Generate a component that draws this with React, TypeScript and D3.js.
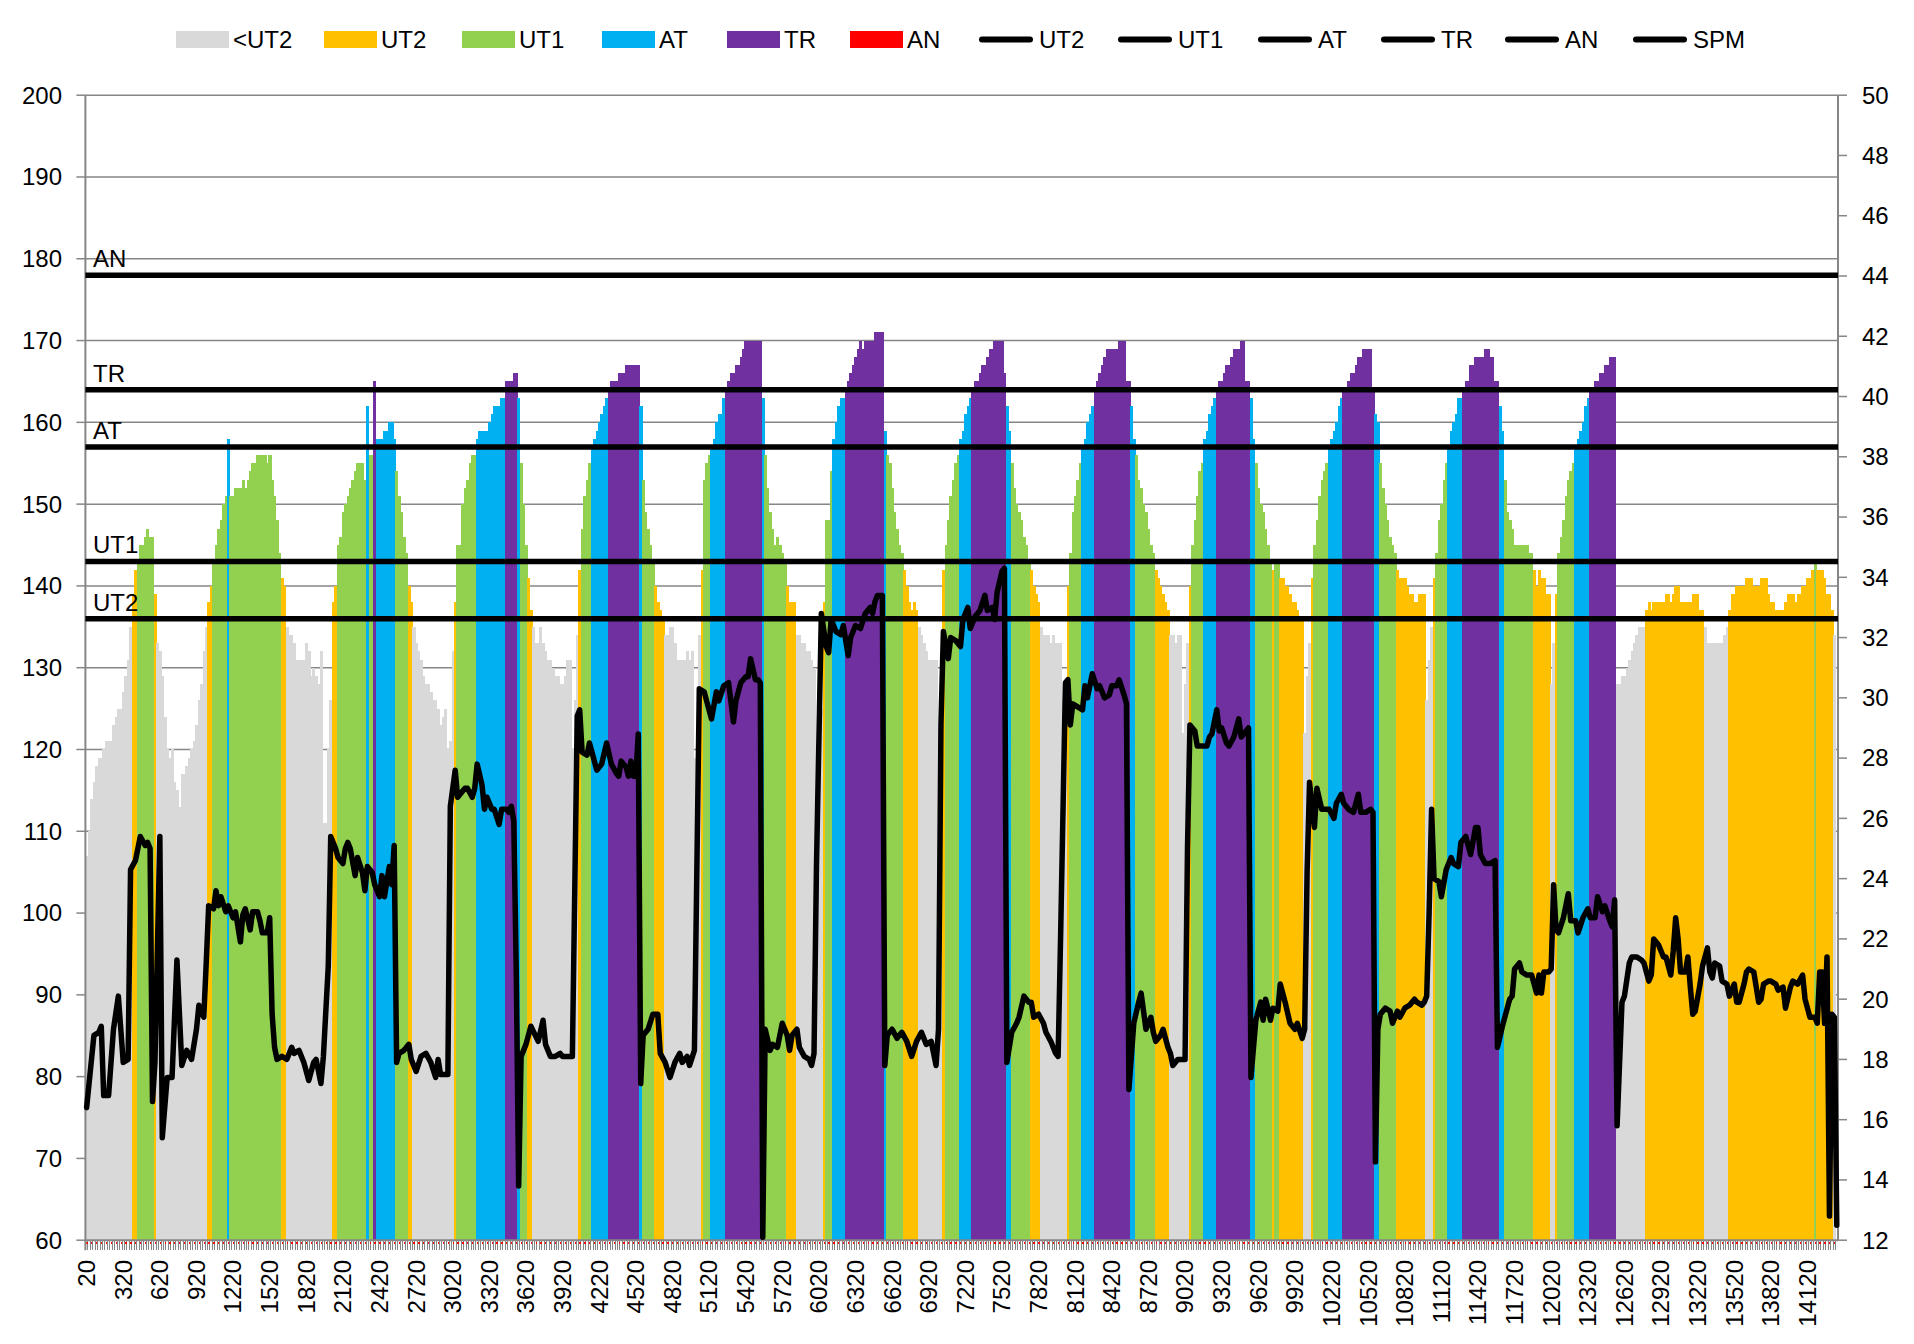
import * as d3 from 'd3';

// heart rate per 20 m split (bpm), last split has no bar
const hr: (number | null)[] = [
  // 0
  107, 110, 114, 116, 118, 119, 119, 120, 121, 121, 121, 123, 124, 125, 125, 127, 129, 131, 135,
  139, 142, 143, 145, 145, 146, 147, 146, 146, 139,
  // 29
  133, 132, 129, 124, 120, 119, 120, 116, 115, 113, 117, 117, 118, 119, 120, 121, 123, 126, 128, 132, 135,
  138, 140, 143, 145, 147, 148, 150, 151, 158,
  // 59
  151, 151, 152, 152, 152, 153, 152, 153, 154, 155, 155, 156, 156, 156, 156, 155, 156, 153, 151, 148, 144,
  141, 140,
  // 82
  135, 134, 134, 133, 131, 131, 131, 131, 133, 132, 129, 130, 129, 128, 132, 111, 111, 120, 126,
  138, 140,
  // 103
  145, 146, 149, 150, 151, 152, 153, 154, 155, 155, 155, 153, 162, 156, 156, 165,
  // 119
  158, 158, 158, 159, 159, 160, 160, 158, 154, 151, 149, 146, 144, 140, 138,
  // 134
  135, 133, 132, 131, 129, 128, 128, 127, 126, 126, 125, 123, 124, 125, 120, 121, 132, 138,
  // 152
  145, 145, 150, 152, 153, 155, 156, 156,
  158, 159, 159, 159, 159, 160, 161, 162, 162, 162, 163, 163,
  165, 165, 165, 166, 166, 163, 155, 150, 145, 141, 137,
  // 183
  135, 133, 133, 135, 133, 132, 131, 131, 130, 129, 129, 128, 128, 129, 131, 131, 120, 126, 134,
  142, 147, 151, 153, 155,
  // 207
  157, 158, 159, 160, 161, 162, 163,
  164, 165, 165, 165, 166, 166, 166, 167, 167, 167, 167, 167, 167,
  162, 153, 149, 147, 145, 143, 140, 138, 137, 136,
  // 237
  134, 134, 135, 135, 133, 131, 131, 131, 131, 132, 131, 132, 119, 119, 134,
  142, 153, 155, 156, 157, 158, 160, 161, 161, 163,
  // 262
  164, 165, 166, 166, 167, 167, 168, 169, 170, 170, 170, 170, 170, 170, 170,
  163, 156, 152, 149, 147, 145, 146, 145, 144, 143, 140, 138, 138, 138,
  // 291
  134, 134, 133, 133, 132, 132, 131, 130, 117, 117, 125, 138, 148, 148, 154,
  158, 160, 162, 163, 163,
  // 311
  164, 165, 166, 167, 168, 169, 170, 169, 170, 170, 170, 170, 171, 171, 171, 171,
  159, 156, 155, 152, 149, 147, 145, 144, 142, 140, 138, 137, 138, 137,
  // 341
  135, 134, 133, 132, 131, 131, 131, 131, 119, 119, 142,
  145, 148, 151, 153, 155, 156, 158, 159, 161, 162, 163,
  // 363
  164, 165, 165, 166, 167, 167, 168, 169, 169, 170, 170, 170, 170, 166,
  162, 159, 155, 152, 150, 149, 148, 146, 145, 143, 142, 140, 139, 138,
  // 391
  135, 134, 134, 134, 133, 134, 133, 133, 133, 126, 120, 140,
  144, 149, 151, 153, 155, 157, 158, 160, 161, 162,
  // 413
  164, 165, 166, 167, 168, 169, 169, 169, 169, 169, 170, 170, 170, 165, 165,
  162, 158, 156, 153, 152, 150, 149, 147, 145, 144, 142, 141, 140, 139, 138, 137,
  // 444
  134, 134, 133, 134, 134, 122, 128, 133, 140,
  145, 148, 151, 154, 155, 158, 159, 161, 162, 163,
  // 463
  164, 165, 165, 166, 167, 167, 168, 169, 169, 169, 170, 170, 165, 165,
  163, 158, 155, 152, 150, 149, 147, 145, 143, 142, 143, 143,
  // 489
  141, 141, 140, 140, 139, 138, 138, 137, 136, 136, 122, 129, 133, 141,
  145, 148, 151, 153, 154, 155, 157, 158, 159, 160, 162, 163,
  // 515
  164, 164, 165, 166, 166, 167, 168, 168, 169, 169, 169, 169, 164,
  161, 160, 155, 152, 150, 148, 146, 145, 144,
  // 537
  142, 141, 141, 141, 140, 139, 139, 138, 138, 139, 139, 139, 126, 131, 135, 141,
  144, 148, 150, 153, 155, 157, 159, 160, 161, 163, 163,
  // 564
  164, 165, 165, 167, 167, 168, 168, 168, 168, 169, 169, 168, 168, 165, 165,
  162, 159, 153, 149, 148, 147, 145, 145, 145, 145, 145, 145, 144, 144,
  // 593
  142, 140, 142, 141, 141, 139, 139, 128, 133, 139,
  144, 146, 148, 151, 153, 154, 155, 157, 158, 159, 160, 162, 163,
  // 616
  164, 164, 165, 165, 166, 166, 167, 167, 168, 168, 168,
  128, 128, 129, 129, 130, 131, 132, 133, 134, 135, 135, 135, 137, 138,
  // 641
  137, 138, 138, 138, 138, 138, 139, 139, 138, 139, 140, 140, 138, 138, 138, 138, 138, 139, 139, 139, 137, 137,
  135, 133, 133, 133, 133, 133, 133, 133, 134, 135,
  // 673
  137, 139, 139, 140, 140, 140, 140, 141, 141, 141, 140, 140, 140, 141, 141, 141, 139, 138, 138, 137, 137, 137,
  137, 138, 139, 139, 139, 138, 139, 139, 140, 140, 141, 141, 142, 143, 142, 142, 142, 141, 139, 139, 137, 134,
  null,
];

// strokes per minute, as [split index, spm] at the turning points of the line
const spm: [number, number][] = [
  [0, 16.4], [3, 18.8], [5, 18.9], [6, 19.1], [7, 16.8], [9, 16.8], [11, 19.0], [13, 20.1], [14, 19.0],
  [15, 17.9], [17, 18.0], [18, 24.3], [20, 24.6], [21, 25.0], [22, 25.4], [24, 25.1], [25, 25.2], [26, 25.0],
  [27, 16.6], [28, 17.9], [30, 25.4], [31, 15.4], [33, 17.4], [35, 17.4], [37, 21.3], [39, 17.8], [41, 18.3],
  [43, 18.0], [45, 19.0], [46, 19.8], [48, 19.4], [49, 21.2], [50, 23.1], [52, 23.0], [53, 23.6], [54, 23.1],
  [55, 23.4], [57, 22.9], [58, 23.1], [60, 22.7], [61, 22.9], [63, 21.9], [64, 22.8], [65, 23.0], [67, 22.3],
  [68, 22.9], [70, 22.9], [71, 22.6], [72, 22.2], [74, 22.2], [75, 22.7], [76, 19.5], [77, 18.4], [78, 18.0],
  [80, 18.1], [82, 18.0], [84, 18.4], [85, 18.2], [87, 18.3], [89, 17.9], [91, 17.3], [93, 17.9], [94, 18.0],
  [96, 17.2], [97, 18.1], [99, 21.1], [100, 25.4], [102, 25.0], [103, 24.7], [105, 24.5], [106, 25.0],
  [107, 25.2], [108, 25.0], [110, 24.1], [111, 24.7], [113, 24.2], [114, 23.6], [115, 24.4], [117, 24.2],
  [118, 23.8], [120, 23.4], [121, 24.1], [122, 23.4], [124, 24.4], [125, 23.8], [126, 25.1], [127, 17.9],
  [128, 18.2], [130, 18.3], [132, 18.5], [133, 18.0], [135, 17.6], [137, 18.1], [139, 18.2], [141, 17.9],
  [143, 17.4], [144, 18.0], [145, 17.5], [148, 17.5], [149, 26.4], [151, 27.6], [152, 26.7], [154, 26.9],
  [155, 27.0], [156, 27.0], [158, 26.7], [159, 27.0], [160, 27.8], [162, 27.1], [163, 26.3], [164, 26.7],
  [166, 26.3], [167, 26.3], [169, 25.8], [170, 26.3], [172, 26.3], [173, 26.2], [174, 26.4], [175, 25.9],
  [176, 21.0], [177, 13.8], [178, 18.1], [180, 18.5], [182, 19.1], [185, 18.6], [187, 19.3], [188, 18.5],
  [190, 18.1], [192, 18.1], [194, 18.2], [195, 18.1], [197, 18.1], [199, 18.1], [201, 29.4], [202, 29.6],
  [203, 28.2], [205, 28.1], [206, 28.5], [207, 28.2], [209, 27.6], [211, 27.8], [213, 28.5], [215, 27.8],
  [217, 27.5], [218, 27.4], [219, 27.9], [221, 27.7], [222, 27.4], [223, 27.9], [224, 27.4], [225, 27.4],
  [226, 28.8], [227, 17.2], [228, 18.8], [230, 19.0], [232, 19.5], [234, 19.5], [235, 18.2], [237, 17.9],
  [239, 17.4], [241, 17.9], [243, 18.2], [244, 17.9], [246, 18.1], [247, 17.8], [249, 18.3], [251, 30.3],
  [253, 30.2], [254, 29.9], [256, 29.3], [258, 30.2], [259, 29.9], [261, 30.4], [263, 30.5], [265, 29.2],
  [266, 29.9], [268, 30.5], [270, 30.7], [271, 30.7], [272, 31.3], [274, 30.6], [275, 30.6], [276, 30.5],
  [277, 12.1], [278, 19.0], [280, 18.3], [281, 18.5], [283, 18.4], [285, 19.2], [287, 18.8], [288, 18.3],
  [289, 18.8], [291, 19.0], [292, 18.4], [294, 18.1], [296, 18.0], [297, 17.8], [298, 18.2], [299, 24.4],
  [301, 32.8], [303, 31.7], [304, 31.5], [305, 32.6], [307, 32.2], [309, 32.1], [310, 32.4], [312, 31.4],
  [313, 32.0], [315, 32.4], [317, 32.3], [319, 32.8], [321, 33.0], [322, 32.8], [323, 33.2], [324, 33.4],
  [326, 33.4], [327, 17.8], [328, 18.8], [330, 19.0], [332, 18.7], [334, 18.9], [336, 18.6], [338, 18.1],
  [340, 18.6], [342, 18.9], [344, 18.5], [346, 18.6], [348, 17.8], [349, 19.0], [350, 29.1], [351, 32.2],
  [353, 31.3], [354, 32.0], [356, 31.9], [358, 31.7], [359, 32.6], [361, 33.0], [362, 32.3], [364, 32.7],
  [366, 32.9], [368, 33.4], [369, 32.9], [371, 33.0], [372, 32.6], [373, 33.5], [375, 34.2], [376, 34.3],
  [377, 17.9], [379, 18.9], [381, 19.2], [382, 19.4], [384, 20.1], [386, 19.9], [387, 19.9], [388, 19.4],
  [390, 19.5], [392, 19.2], [393, 18.9], [395, 18.6], [397, 18.2], [398, 18.1], [399, 22.0], [401, 30.5],
  [402, 30.6], [403, 29.1], [404, 29.8], [406, 29.7], [408, 29.6], [409, 30.4], [410, 30.0], [412, 30.8],
  [414, 30.3], [415, 30.4], [417, 30.0], [419, 30.1], [420, 30.4], [422, 30.4], [423, 30.6], [425, 30.1],
  [426, 29.8], [427, 17.0], [429, 19.2], [431, 19.9], [432, 20.2], [434, 19.0], [436, 19.4], [437, 18.9],
  [438, 18.6], [440, 18.8], [441, 19.0], [443, 18.4], [444, 18.2], [445, 17.8], [447, 18.0], [448, 18.0],
  [450, 18.0], [451, 25.0], [452, 29.1], [454, 28.9], [455, 28.4], [457, 28.4], [459, 28.4], [460, 28.7],
  [461, 28.8], [463, 29.6], [464, 28.9], [465, 29.0], [467, 28.5], [468, 28.4], [470, 28.7], [472, 29.3],
  [473, 28.7], [474, 28.8], [476, 29.0], [477, 17.4], [479, 19.3], [481, 19.9], [482, 19.3], [483, 20.0],
  [485, 19.3], [486, 19.7], [488, 19.6], [489, 20.5], [491, 19.9], [493, 19.2], [495, 19.0], [496, 19.2],
  [498, 18.7], [499, 19.0], [500, 24.2], [501, 27.2], [503, 25.7], [504, 27.0], [506, 26.3], [507, 26.3],
  [509, 26.3], [511, 26.0], [512, 26.5], [514, 26.8], [515, 26.5], [517, 26.3], [519, 26.2], [521, 26.8],
  [522, 26.2], [524, 26.2], [526, 26.3], [527, 26.2], [528, 14.6], [529, 19.0], [530, 19.5], [532, 19.7],
  [534, 19.6], [535, 19.2], [537, 19.6], [538, 19.4], [540, 19.7], [542, 19.8], [544, 20.0], [545, 19.9],
  [547, 19.8], [548, 19.9], [549, 20.1], [550, 22.9], [551, 26.3], [552, 24.0], [554, 23.9], [555, 23.4],
  [557, 24.3], [559, 24.7], [560, 24.5], [562, 24.4], [563, 25.2], [565, 25.4], [566, 25.1], [567, 24.8],
  [569, 25.7], [570, 25.7], [571, 24.8], [573, 24.5], [575, 24.5], [577, 24.6], [578, 18.4], [580, 19.1],
  [582, 19.7], [583, 20.0], [584, 20.1], [585, 21.0], [587, 21.2], [588, 20.9], [590, 20.8], [592, 20.8],
  [594, 20.2], [595, 20.8], [596, 20.2], [597, 20.9], [599, 20.9], [600, 21.0], [601, 23.8], [602, 22.3],
  [603, 22.2], [605, 22.7], [607, 23.5], [608, 22.6], [610, 22.6], [611, 22.2], [613, 22.7], [615, 23.0],
  [616, 22.7], [618, 22.7], [619, 23.4], [621, 22.9], [622, 23.1], [624, 22.6], [625, 22.4], [626, 23.3],
  [627, 15.8], [629, 19.9], [630, 20.1], [632, 21.2], [633, 21.4], [635, 21.4], [637, 21.3], [638, 21.2],
  [640, 20.6], [641, 20.8], [642, 22.0], [644, 21.8], [646, 21.4], [647, 21.4], [649, 20.8], [650, 21.6],
  [651, 22.7], [652, 22.0], [653, 20.9], [655, 20.9], [656, 21.4], [657, 20.4], [658, 19.5], [659, 19.6],
  [661, 20.5], [662, 21.1], [664, 21.7], [665, 20.9], [666, 20.7], [667, 21.2], [669, 21.1], [670, 20.6],
  [672, 20.5], [673, 20.1], [675, 20.5], [676, 19.9], [677, 19.9], [679, 20.5], [680, 20.9], [681, 21.0],
  [683, 20.9], [685, 19.9], [686, 20.0], [687, 20.5], [689, 20.6], [690, 20.6], [692, 20.5], [693, 20.3],
  [695, 20.4], [696, 19.7], [698, 20.4], [699, 20.6], [701, 20.5], [703, 20.8], [704, 20.0], [706, 19.4],
  [708, 19.4], [709, 19.2], [710, 20.9], [711, 20.9], [712, 19.2], [713, 21.4], [714, 12.8], [715, 19.5],
  [716, 19.4], [717, 12.5],
];

const distanceStep = 20;
const categories = hr.map((_, i) => (i + 1) * distanceStep);
const labelEvery = 15;

const zoneNames = ['<UT2', 'UT2', 'UT1', 'AT', 'TR', 'AN'];
const zoneColors = ['#d9d9d9', '#ffc000', '#92d050', '#00b0f0', '#7030a0', '#ff0000'];
const zoneLines = ['UT2', 'UT1', 'AT', 'TR', 'AN'];
const zoneLimits = [136, 143, 157, 164, 178];

const hrTicks = d3.range(60, 201, 10);
const spmTicks = d3.range(12, 51, 2);

const W = 1914;
const H = 1344;
const left = 85.4;
const right = 1838;
const top = 95.2;
const bottom = 1240.2;
const font = "'Liberation Sans', Arial, sans-serif";
const axisGrey = '#868686';

const App = () => {
  const x = d3.scaleBand<number>().domain(categories).range([left, right]).padding(0);
  const bw = x.bandwidth();
  const yHr = d3.scaleLinear().domain([60, 200]).range([bottom, top]);
  const ySpm = d3.scaleLinear().domain([12, 50]).range([bottom, top]);
  const cx = (i: number) => (x(categories[i]) ?? 0) + bw / 2;

  const spmPath = d3
    .line<[number, number]>()
    .x(d => cx(d[0]))
    .y(d => ySpm(d[1]))(spm);

  // legend: six zone swatches, then the six line series
  const swatchX = [176, 324, 462, 602, 727, 850];
  const lineX = [979, 1118, 1258, 1381, 1505, 1633];
  const lineNames = [...zoneLines, 'SPM'];

  return (
    <svg
      width={W}
      height={H}
      style={{ position: 'absolute', left: 0, top: 0, background: '#fff' }}
      fontFamily={font}
    >
      {/* gridlines */}
      {hrTicks.slice(1).map(t => (
        <line key={'g' + t} x1={left} x2={right} y1={yHr(t)} y2={yHr(t)} stroke={axisGrey} strokeWidth={1.5} />
      ))}

      {/* bars */}
      <g shapeRendering="crispEdges">
        {hr.map((v, i) =>
          v == null ? null : (
            <rect
              key={i}
              x={x(categories[i])}
              y={yHr(v)}
              width={bw + 0.6}
              height={bottom - yHr(v)}
              fill={zoneColors[d3.bisectRight(zoneLimits, v)]}
            />
          )
        )}
      </g>

      {/* category axis */}
      <g shapeRendering="crispEdges">
        {categories.map(c => (
          <line key={'t' + c} x1={x(c)!} x2={x(c)!} y1={bottom} y2={bottom + 10} stroke={axisGrey} strokeWidth={1} />
        ))}
        {categories
          .filter((_, i) => i % 2 === 0)
          .map(c => (
            <rect key={'r' + c} x={x(c)! + 1} y={bottom + 1.5} width={1.2} height={2} fill="#ff0000" />
          ))}
      </g>
      <line x1={left} x2={right} y1={bottom} y2={bottom} stroke={axisGrey} strokeWidth={2} />
      {categories
        .filter((_, i) => i % labelEvery === 0)
        .map(c => (
          <text
            key={'xl' + c}
            transform={`translate(${(x(c) ?? 0) + bw / 2},1260) rotate(-90)`}
            textAnchor="end"
            dy="0.35em"
            fontSize={24}
            fill="#000"
          >
            {c}
          </text>
        ))}

      {/* left axis */}
      <line x1={left} x2={left} y1={top} y2={bottom + 10} stroke={axisGrey} strokeWidth={2} />
      {hrTicks.map(t => (
        <g key={'yl' + t}>
          <line x1={left - 9} x2={left} y1={yHr(t)} y2={yHr(t)} stroke={axisGrey} strokeWidth={1.5} />
          <text x={62} y={yHr(t)} dy="0.35em" textAnchor="end" fontSize={24} fill="#000">
            {t}
          </text>
        </g>
      ))}

      {/* right axis */}
      <line x1={right} x2={right} y1={top} y2={bottom} stroke={axisGrey} strokeWidth={2} />
      {spmTicks.map(t => (
        <g key={'yr' + t}>
          <line x1={right} x2={right + 9} y1={ySpm(t)} y2={ySpm(t)} stroke={axisGrey} strokeWidth={1.5} />
          <text x={right + 24} y={ySpm(t)} dy="0.35em" textAnchor="start" fontSize={24} fill="#000">
            {t}
          </text>
        </g>
      ))}

      {/* zone threshold lines */}
      {zoneLimits.map((v, k) => (
        <g key={'z' + k}>
          <line x1={left} x2={right} y1={yHr(v)} y2={yHr(v)} stroke="#000" strokeWidth={5.5} />
          <text x={93} y={yHr(v) - 8} fontSize={24} fill="#000">
            {zoneLines[k]}
          </text>
        </g>
      ))}

      {/* stroke rate */}
      <path
        d={spmPath ?? ''}
        fill="none"
        stroke="#000"
        strokeWidth={5.5}
        strokeLinejoin="round"
        strokeLinecap="round"
      />

      {/* legend */}
      <g fontSize={24}>
        {zoneNames.map((n, k) => (
          <g key={'lz' + k}>
            <rect x={swatchX[k]} y={31} width={53} height={17} fill={zoneColors[k]} />
            <text x={swatchX[k] + 57} y={39.5} dy="0.35em" fill="#000">
              {n}
            </text>
          </g>
        ))}
        {lineNames.map((n, k) => (
          <g key={'ll' + k}>
            <line
              x1={lineX[k] + 3}
              x2={lineX[k] + 51}
              y1={39.5}
              y2={39.5}
              stroke="#000"
              strokeWidth={6}
              strokeLinecap="round"
            />
            <text x={lineX[k] + 60} y={39.5} dy="0.35em" fill="#000">
              {n}
            </text>
          </g>
        ))}
      </g>
    </svg>
  );
};

export default App;
